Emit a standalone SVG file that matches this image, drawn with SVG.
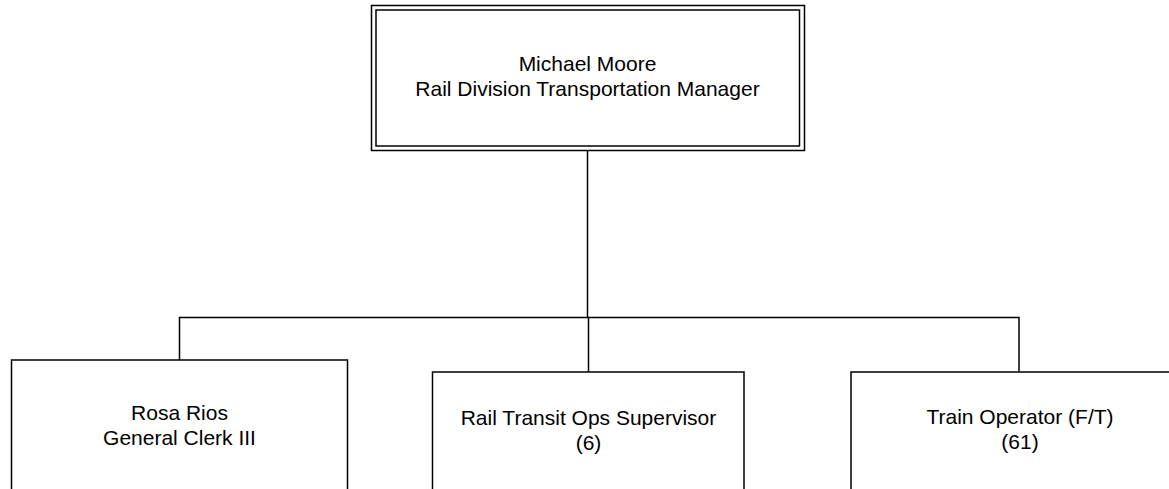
<svg xmlns="http://www.w3.org/2000/svg" width="1169" height="489" viewBox="0 0 1169 489">
<style>
.box{fill:#fff;stroke:#000;stroke-width:1.5}
.ln{fill:none;stroke:#000;stroke-width:1.5}
text{font-family:"Liberation Sans",Arial,sans-serif;font-size:21px;fill:#000;text-anchor:middle}
</style>
<rect width="1169" height="489" fill="#fff"/>
<g id="connectors">
<path class="ln" d="M587.5 150.5 V317.5"/>
<path class="ln" d="M179.5 360 V317.5 H1019 V371.5"/>
<path class="ln" d="M588.5 317.5 V372"/>
</g>
<g id="node-michael-moore">
<rect class="box" x="371.5" y="5.5" width="433" height="145"/>
<rect class="box" x="376" y="10" width="423.5" height="136"/>
<text x="587.5" y="71">Michael Moore</text>
<text x="587.5" y="96">Rail Division Transportation Manager</text>
</g>
<g id="node-rosa-rios">
<rect class="box" x="11.5" y="360" width="336" height="140"/>
<text x="179.5" y="419.5">Rosa Rios</text>
<text x="179.5" y="444.5">General Clerk III</text>
</g>
<g id="node-supervisor">
<rect class="box" x="432.5" y="372" width="311.5" height="130"/>
<text x="588.5" y="425">Rail Transit Ops Supervisor</text>
<text x="588.5" y="450">(6)</text>
</g>
<g id="node-train-operator">
<rect class="box" x="851" y="372" width="340" height="130"/>
<text x="1020" y="424">Train Operator (F/T)</text>
<text x="1020" y="449">(61)</text>
</g>
</svg>
